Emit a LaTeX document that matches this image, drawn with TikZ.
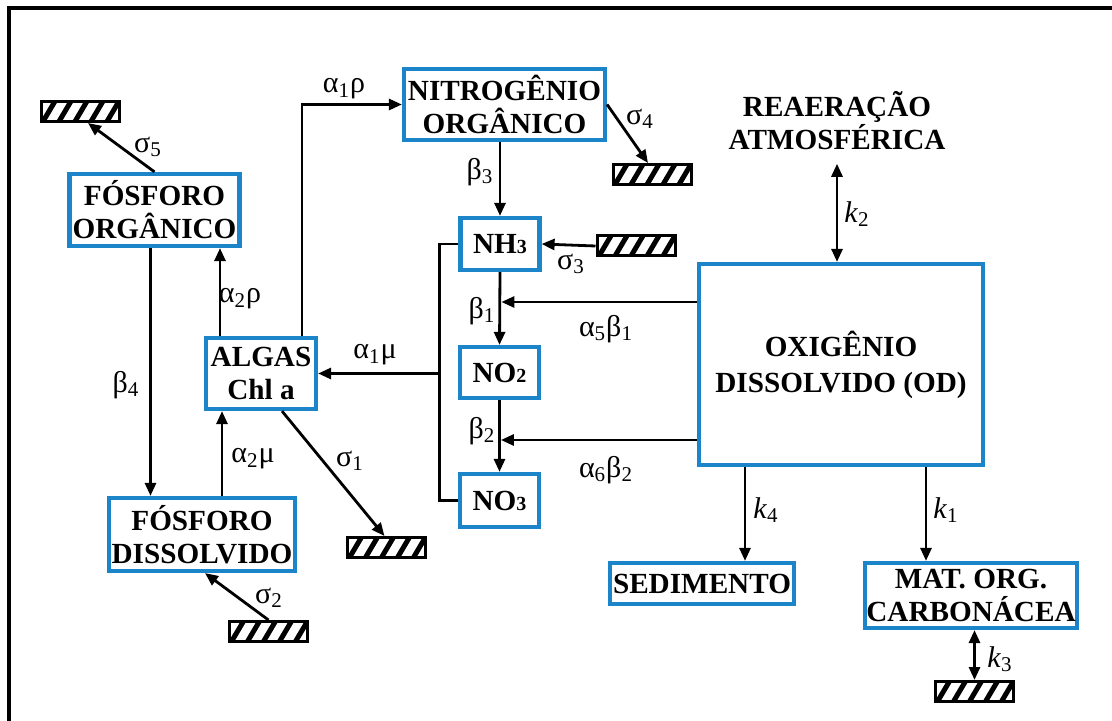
\documentclass[tikz,border=0pt]{standalone}
\usepackage{fontspec}
\setmainfont{Liberation Serif}
\usetikzlibrary{arrows.meta}
\definecolor{boxblue}{RGB}{28,132,200}
\tikzset{
  comp/.style={draw=boxblue,line width=2.1pt,align=center,inner sep=0pt,
    font=\bfseries\fontsize{14.6}{16.5}\selectfont},
  lab/.style={inner sep=0pt,font=\fontsize{15}{15}\selectfont},
  sinkbox/.style={draw,line width=1.5pt,minimum width=39pt,minimum height=10pt,inner sep=0pt,
    path picture={\foreach \i in {0,...,4}
      \draw[line width=2.5pt] ([xshift=\i*8pt+1pt]path picture bounding box.south west) -- ++(6.5pt,11pt);}}
}
\begin{document}
\begin{tikzpicture}[x=.5pt,y=-.5pt,>={Triangle[length=6.5pt,width=5.5pt]},line width=1.4pt]
  \useasboundingbox (0,0) rectangle (1112,721);
  \draw[line width=2pt] (9,721) -- (9,8) -- (1112,8);
  % compartments
  \node[comp,minimum width=85pt,minimum height=36pt] (fo) at (154.5,210) {FÓSFORO\\ORGÂNICO};
  \node[comp,minimum width=93pt,minimum height=36.5pt] (fd) at (202,534.5) {FÓSFORO\\DISSOLVIDO};
  \node[comp,minimum width=55pt,minimum height=35.5pt] (algas) at (261,373.5) {ALGAS\\Chl a};
  \node[comp,minimum width=100.5pt,minimum height=35.5pt] (nit) at (504.5,104.5) {NITROGÊNIO\\ORGÂNICO};
  \node[comp,minimum width=39.5pt,minimum height=26pt] (nh3) at (500,244) {NH{\fontsize{10}{10}\selectfont 3}};
  \node[comp,minimum width=39.5pt,minimum height=25.5pt] (no2) at (499.5,372.5) {NO{\fontsize{10}{10}\selectfont 2}};
  \node[comp,minimum width=39.5pt,minimum height=26.5pt] (no3) at (499.5,500.5) {NO{\fontsize{10}{10}\selectfont 3}};
  \node[comp,minimum width=142pt,minimum height=100.5pt] (od) at (841,364.5) {OXIGÊNIO\\[1.5pt]DISSOLVIDO (OD)};
  \node[comp,minimum width=92pt,minimum height=20.5pt] (sed) at (702,583.5) {SEDIMENTO};
  \node[comp,minimum width=106pt,minimum height=32.5pt] (mat) at (971,595.5) {MAT. ORG.\\CARBONÁCEA};
  \node[comp,draw=none,inner sep=6pt] (rea) at (837,120.5) {REAERAÇÃO\\ATMOSFÉRICA};
  % sinks
  \node[sinkbox] (s5) at (80,111.5) {};
  \node[sinkbox] (s4) at (652,174.5) {};
  \node[sinkbox] (s3) at (636,246) {};
  \node[sinkbox] (s1) at (386.5,547.5) {};
  \node[sinkbox] (s2) at (268.5,631.5) {};
  \node[sinkbox] (sk3) at (974.5,691.5) {};
  % phosphorus and algae
  \draw[->] (fo.north) -- ([xshift=4pt]s5.south);
  \draw[->] ([xshift=-2pt]fo.south) -- ([xshift=-2pt]fo.south |- fd.north);
  \draw[->] (s2.north) -- ([xshift=1.5pt]fd.south);
  \draw[->] ([xshift=10pt]fd.north) -- ([xshift=10pt]fd.north |- algas.south);
  \draw[->] ([xshift=-20.5pt]algas.north) -- ([xshift=-20.5pt]algas.north |- fo.south);
  \draw[->] ([xshift=20.5pt]algas.north) |- (nit.west);
  \draw[->] ([xshift=10.5pt]algas.south) -- ([xshift=-1pt]s1.north);
  % nitrogen chain
  \draw[->] (nit.south -| nh3.north) -- (nh3.north);
  \draw[->] (nit.east) -- ([xshift=-2pt]s4.north);
  \draw[->] (s3.west) -- (nh3.east);
  \draw[->] (nh3.south) -- (no2.north);
  \draw[->] (no2.south) -- (no3.north);
  \draw (nh3.west) -- ([xshift=-9.5pt]nh3.west) coordinate (brk) |- (no3.west);
  \draw[->] (brk |- algas.east) -- (algas.east);
  \draw[->,shorten >=.7pt] ([yshift=31.25pt]od.west) -- ([yshift=31.25pt]od.west -| nh3.south);
  \draw[->,shorten >=.7pt] ([yshift=-37.75pt]od.west) -- ([yshift=-37.75pt]od.west -| no2.south);
  % oxygen
  \draw[<->] (rea.south) -- (rea.south |- od.north);
  \draw[->] ([xshift=-48pt]od.south) -- ([xshift=-48pt]od.south |- sed.north);
  \draw[->] ([xshift=42.5pt]od.south) -- ([xshift=42.5pt]od.south |- mat.north);
  \draw[<->] (sk3.north |- mat.south) -- (sk3.north);
  % rates
  \node[lab] (l5) at (148,147) {σ\textsubscript{5}};
  \node[lab] (l1r) at (344,89) {α\textsubscript{1}ρ};
  \node[lab] (l2r) at (240,299) {α\textsubscript{2}ρ};
  \node[lab] (lb4) at (126,385) {β\textsubscript{4}};
  \node[lab] (l2m) at (253,459) {α\textsubscript{2}μ};
  \node[lab] (ls1) at (350,461) {σ\textsubscript{1}};
  \node[lab] (l1m) at (375,355) {α\textsubscript{1}μ};
  \node[lab] (ls2) at (269,598) {σ\textsubscript{2}};
  \node[lab] (lb3) at (480,172) {β\textsubscript{3}};
  \node[lab] (ls4) at (640,119) {σ\textsubscript{4}};
  \node[lab] (ls3) at (571,264) {σ\textsubscript{3}};
  \node[lab] (lb1) at (482,311) {β\textsubscript{1}};
  \node[lab] (l5b) at (606,329) {α\textsubscript{5}β\textsubscript{1}};
  \node[lab] (lb2) at (482,431) {β\textsubscript{2}};
  \node[lab] (l6b) at (606,470) {α\textsubscript{6}β\textsubscript{2}};
  \node[lab] (lk2) at (857,214) {\textit{k}\textsubscript{2}};
  \node[lab] (lk4) at (766,510) {\textit{k}\textsubscript{4}};
  \node[lab] (lk1) at (946,510) {\textit{k}\textsubscript{1}};
  \node[lab] (lk3) at (1000,659) {\textit{k}\textsubscript{3}};
\end{tikzpicture}
\end{document}
